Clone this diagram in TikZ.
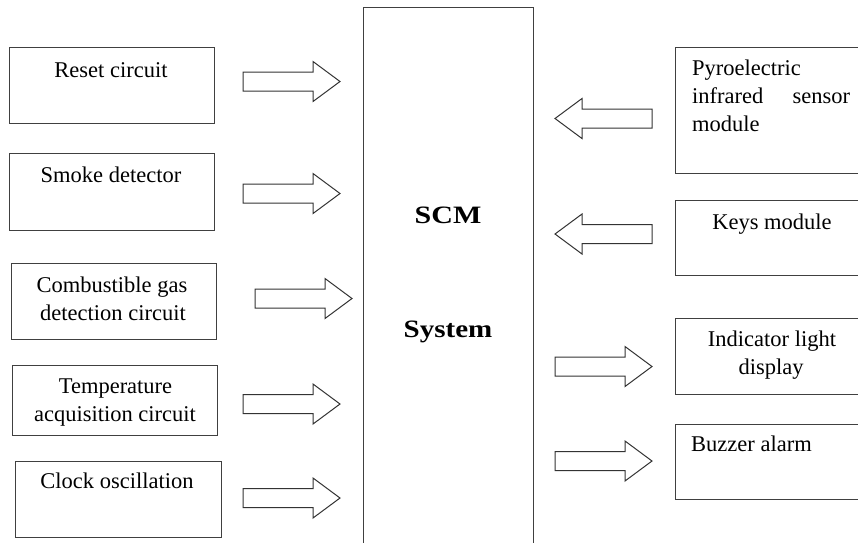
\documentclass[tikz,border=0pt]{standalone}
\usepackage{fontspec}
\setmainfont{Liberation Serif}
\usepackage{graphicx}
\tikzset{
  box/.style={draw=black!75, line width=1.3pt, anchor=north west, inner sep=0pt},
  lbl/.style={anchor=base, inner sep=0pt, font=\fontsize{22.5}{28}\selectfont, text=black},
  big/.style={anchor=base, inner sep=0pt, font=\fontsize{25}{28}\selectfont\bfseries},
  barrow/.style={draw=black!80, line width=1pt, fill=white, line join=miter},
  pics/rarr/.style={code={
    \draw[barrow] (0,-9.5) -- (70,-9.5) -- (70,-20) -- (97,0) -- (70,20) -- (70,9.5) -- (0,9.5) -- cycle;}},
  pics/larr/.style={code={
    \draw[barrow] (0,-9.5) -- (-70,-9.5) -- (-70,-20) -- (-97,0) -- (-70,20) -- (-70,9.5) -- (0,9.5) -- cycle;}},
}
\begin{document}
\begin{tikzpicture}[x=1pt,y=-1pt]
\useasboundingbox (0,0) rectangle (858,542);
% left boxes
\node[box, minimum width=205pt, minimum height=76pt] (reset) at (9,47) {};
\node[box, minimum width=205pt, minimum height=77pt] (smoke) at (9,153) {};
\node[box, minimum width=205pt, minimum height=76pt] (comb) at (11,263) {};
\node[box, minimum width=205pt, minimum height=70pt] (temp) at (12,365) {};
\node[box, minimum width=206pt, minimum height=76pt] (clock) at (15,461) {};
% centre
\node[box, minimum width=170pt, minimum height=560pt] (scm) at (363,7) {};
% right boxes
\node[box, minimum width=200pt, minimum height=126pt] (pyro) at (675,47) {};
\node[box, minimum width=200pt, minimum height=75pt] (keys) at (675,200) {};
\node[box, minimum width=200pt, minimum height=76pt] (ind) at (675,318) {};
\node[box, minimum width=200pt, minimum height=75pt] (buzz) at (675,424) {};
% texts
\node[lbl] (tReset) at (111,77) {Reset circuit};
\node[lbl] (tSmoke) at (111,182) {Smoke detector};
\node[lbl] (tComb1) at (112,292) {Combustible gas};
\node[lbl] (tComb2) at (113,320) {detection circuit};
\node[lbl] (tTemp1) at (115.5,393) {Temperature};
\node[lbl] (tTemp2) at (115,421) {acquisition circuit};
\node[lbl] (tClock) at (117,488) {Clock oscillation};
\node[big] (tSCM) at (448,223) {\scalebox{1.2}[1]{SCM}};
\node[big] (tSys) at (448,337) {\scalebox{1.16}[1]{System}};
\node[lbl, anchor=base west] (tPyro1) at (692,75) {Pyroelectric};
\node[lbl, anchor=base west, text width=158pt, align=left] (tPyro2) at (692,103) {infrared\hfill sensor};
\node[lbl, anchor=base west] (tPyro3) at (692,131) {module};
\node[lbl] (tKeys) at (772,229) {Keys module};
\node[lbl] (tInd1) at (772,346) {Indicator light};
\node[lbl] (tInd2) at (771,374) {display};
\node[lbl, anchor=base west] (tBuzz) at (691,451) {Buzzer alarm};
% block arrows
\pic (a1) at (243,81.5) {rarr};
\pic (a2) at (243,193.5) {rarr};
\pic (a3) at (255,298.5) {rarr};
\pic (a4) at (243,404) {rarr};
\pic (a5) at (243,498) {rarr};
\pic (a6) at (652,118.5) {larr};
\pic (a7) at (652,234) {larr};
\pic (a8) at (555,366.5) {rarr};
\pic (a9) at (555,461) {rarr};
\end{tikzpicture}
\end{document}
